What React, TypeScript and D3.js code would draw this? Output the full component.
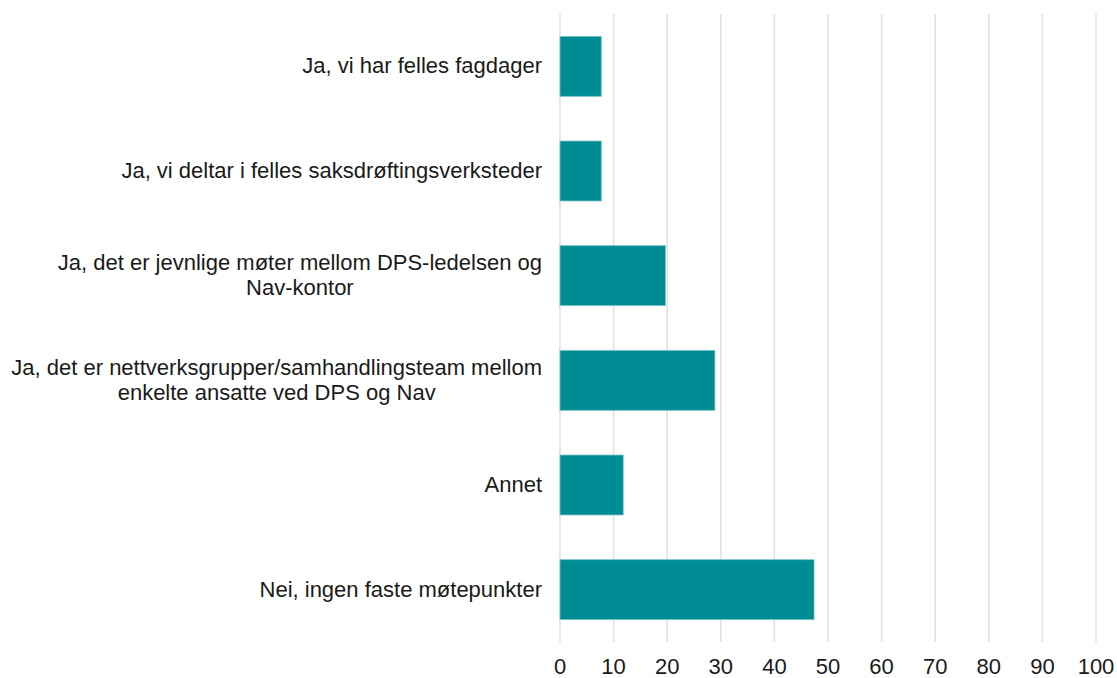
import React, { useRef, useEffect } from 'react';
import * as d3 from 'd3';

const categories: string[][] = [
  ['Ja, vi har felles fagdager'],
  ['Ja, vi deltar i felles saksdrøftingsverksteder'],
  ['Ja, det er jevnlige møter mellom DPS-ledelsen og', 'Nav-kontor'],
  ['Ja, det er nettverksgrupper/samhandlingsteam mellom', 'enkelte ansatte ved DPS og Nav'],
  ['Annet'],
  ['Nei, ingen faste møtepunkter'],
];
const values = [7.7, 7.7, 19.7, 28.9, 11.8, 47.4];
const xTicks = [0, 10, 20, 30, 40, 50, 60, 70, 80, 90, 100];

const App = () => {
  const svgRef = useRef<SVGSVGElement>(null);

  useEffect(() => {
    const svg = d3.select(svgRef.current);
    svg.selectAll('*').remove();

    const width = 1117;
    const height = 678;
    const margin = { top: 14, right: 21, bottom: 36, left: 560 };
    const font = '"Liberation Sans", Arial, Helvetica, sans-serif';

    const x = d3.scaleLinear().domain([0, 100]).range([margin.left, width - margin.right]);
    const y = d3.scaleBand<number>()
      .domain(d3.range(categories.length))
      .range([margin.top, height - margin.bottom])
      .paddingInner(0.427)
      .paddingOuter(0.2135);

    // gridlines
    svg.append('g')
      .selectAll('line')
      .data(xTicks)
      .enter().append('line')
      .attr('x1', d => x(d))
      .attr('x2', d => x(d))
      .attr('y1', margin.top)
      .attr('y2', height - margin.bottom)
      .attr('stroke', '#e0e0e0')
      .attr('stroke-width', 1.5);

    // bars
    svg.append('g')
      .selectAll('rect')
      .data(values)
      .enter().append('rect')
      .attr('x', x(0))
      .attr('y', (d, i) => y(i)!)
      .attr('width', d => x(d) - x(0))
      .attr('height', y.bandwidth())
      .attr('fill', '#008c95')
      .attr('stroke', '#7cc4c9')
      .attr('stroke-width', 0.8);

    // x tick labels
    svg.append('g')
      .selectAll('text')
      .data(xTicks)
      .enter().append('text')
      .attr('x', d => x(d))
      .attr('y', 674)
      .attr('text-anchor', 'middle')
      .attr('font-family', font)
      .attr('font-size', 22)
      .attr('fill', '#1a1a1a')
      .text(d => d);

    // category labels
    const lineH = 25;
    const labels = svg.append('g')
      .selectAll('text')
      .data(categories)
      .enter().append('text')
      .attr('font-family', font)
      .attr('font-size', 22)
      .attr('fill', '#1a1a1a')
      .attr('text-anchor', 'middle')
      .attr('y', (d, i) => y(i)! + y.bandwidth() / 2 - ((d.length - 1) * lineH) / 2 + 7);

    labels.each(function (d) {
      const t = d3.select(this);
      d.forEach((line, j) => {
        t.append('tspan').attr('x', 0).attr('dy', j === 0 ? 0 : lineH).text(line);
      });
      // right-align the block, center the lines inside it
      const w = (this as SVGTextElement).getBBox().width;
      t.selectAll('tspan').attr('x', 542 - w / 2);
    });
  }, []);

  return (
    <svg
      ref={svgRef}
      width={1117}
      height={678}
      style={{ position: 'absolute', top: 0, left: 0, display: 'block' }}
    />
  );
};

export default App;
